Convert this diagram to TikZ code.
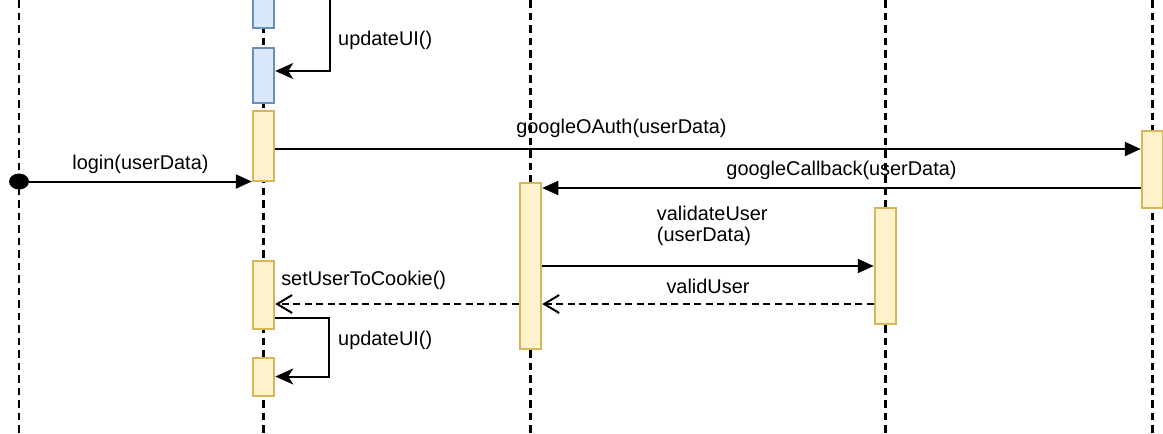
\documentclass[tikz,border=0pt]{standalone}
\usepackage{fontspec}
\setmainfont{Liberation Sans}
\usetikzlibrary{arrows.meta,shapes.geometric}
\definecolor{actfill}{HTML}{FFF2CC}
\definecolor{actline}{HTML}{D6B656}
\definecolor{uifill}{HTML}{DAE8FC}
\definecolor{uiline}{HTML}{6C8EBF}
\begin{document}
\begin{tikzpicture}[x=1pt, y=-1pt,
    font=\fontsize{19.9}{21}\selectfont,
    life/.style={line width=2.2pt, dash pattern=on 7.5pt off 5pt},
    act/.style={draw=actline, fill=actfill, line width=2pt, minimum width=21.5pt, inner sep=0pt},
    uiact/.style={act, draw=uiline, fill=uifill},
    msg/.style={line width=2pt, -{Triangle[length=16pt, width=14pt]}},
    ret/.style={line width=2pt, dash pattern=on 7pt off 4.5pt, -{Straight Barb[length=15pt, width=18pt]}},
    self/.style={line width=2pt, -{Stealth[length=18pt, width=16pt, inset=5pt]}},
    lbl/.style={inner sep=0pt}]
        \useasboundingbox (0,0) rectangle (1163,434);
        \clip (0,0) rectangle (1163,434);
        \coordinate (l1) at (19,0);
        \coordinate (l2) at (263.5,0);
        \coordinate (l3) at (530.5,0);
        \coordinate (l4) at (885.5,0);
        \coordinate (l5) at (1152.5,0);
        \coordinate (r0) at (0,71);
        \coordinate (r1) at (0,149);
        \coordinate (r2) at (0,188);
        \coordinate (r3) at (0,266);
        \coordinate (r4) at (0,304);
        \coordinate (r5) at (0,318);
        \foreach \l in {l1,l2,l3,l4,l5}
            \draw[life] (\l) -- ++(0,434);

        \node[uiact, minimum height=40pt] (ui1) at (263.5,8) {};
        \node[uiact, minimum height=55pt] (ui2) at (263.5,75) {};
        \node[act, minimum height=70pt] (act2a) at (263.5,145.5) {};
        \node[act, minimum height=68pt] (act2b) at (263.5,294.5) {};
        \node[act, minimum height=38pt] (act2c) at (263.5,376.5) {};
        \node[act, minimum height=166pt] (act3) at (530.5,265.5) {};
        \node[act, minimum height=116pt] (act4) at (885.5,265.5) {};
        \node[act, minimum height=77pt] (act5) at (1152.5,169) {};
        \node[ellipse, fill, minimum width=20pt, minimum height=16pt, inner sep=0pt] (start) at (l1 |- act2a.south) {};

        \draw[self] (ui1.north east) -- ++(55,0) |- (ui2.east |- r0);
        \node[lbl, anchor=base west] (ui1lbl) at (338,45) {updateUI()};

        \draw[msg] (start) -- (act2a.south west) node[lbl, midway, above=7pt] {login(userData)};
        \draw[msg] (act2a.east |- r1) -- (act5.west |- r1) node[lbl, pos=0.4, above=10pt] {googleOAuth(userData)};
        \draw[msg] (act5.west |- r2) -- (act3.east |- r2) node[lbl, midway, above=7pt] {googleCallback(userData)};
        \draw[msg] (act3.east |- r3) -- (act4.west |- r3) node[lbl, pos=0.343, above=19pt, anchor=south west, align=left] {validateUser\\(userData)};
        \draw[ret] (act4.west |- r4) -- (act3.east |- r4) node[lbl, midway, above=9pt] {validUser};
        \draw[ret] (act3.west |- r4) -- (act2b.east |- r4) node[lbl, pos=1, above=13pt, anchor=south west, xshift=5pt] {setUserToCookie()};

        \draw[self] (act2b.east |- r5) -- ++(54,0) |- (act2c.east);
        \node[lbl, anchor=base west] (ui2lbl) at (338,345) {updateUI()};
\end{tikzpicture}
\end{document}
